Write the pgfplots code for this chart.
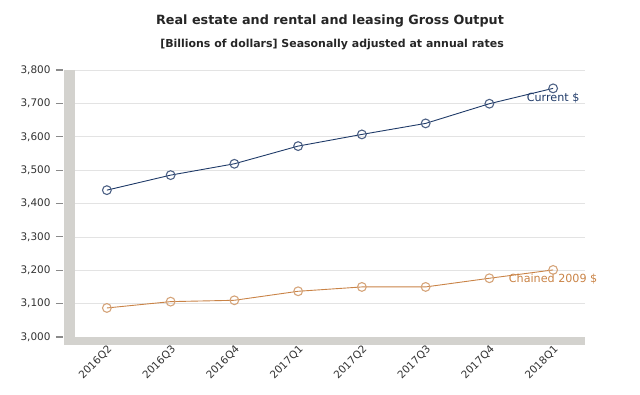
\documentclass[border=0pt]{standalone}
\usepackage{pgfplots}
\pgfplotsset{compat=1.18}
\usepackage{fontspec}
\setmainfont{DejaVu Sans}
\definecolor{curcol}{HTML}{1F3A68}
\definecolor{curmark}{HTML}{4D6185}
\definecolor{chcol}{HTML}{C98346}
\definecolor{chmark}{HTML}{D5A47A}
\definecolor{barcol}{HTML}{D3D2CE}
\definecolor{gridcol}{HTML}{E3E3E3}
\definecolor{txtcol}{HTML}{333333}
\definecolor{tickcol}{HTML}{8A8A8A}
\begin{document}
\begin{tikzpicture}
\useasboundingbox (0,0) rectangle (640bp,395bp);
\node[font=\fontsize{12.8}{14}\selectfont\bfseries, text=black!85] at (330bp,374bp) {Real estate and rental and leasing Gross Output};
\node[font=\fontsize{11}{12}\selectfont\bfseries, text=black!85] at (332bp,350bp) {[Billions of dollars] Seasonally adjusted at annual rates};
\begin{axis}[
  at={(75bp,58bp)}, anchor=south west,
  scale only axis, width=510bp, height=267bp,
  xmin=-0.5, xmax=7.5, ymin=3000, ymax=3800,
  axis line style={draw=none},
  xtick={0,...,7},
  xticklabels={2016Q2,2016Q3,2016Q4,2017Q1,2017Q2,2017Q3,2017Q4,2018Q1},
  xtick style={draw=none},
  xticklabel style={rotate=45, anchor=north east, font=\fontsize{10.5}{12}\selectfont, text=txtcol, xshift=3bp, yshift=3bp},
  ytick={3000,3100,...,3800},
  ytick pos=left,
  ymajorgrids, grid style={gridcol, line width=0.6pt},
  ytick style={draw=none},
  major tick length=7bp, tick align=outside,
  yticklabel style={font=\fontsize{10.5}{12}\selectfont, text=txtcol, xshift=-14bp},
  /pgf/number format/assume math mode=true,
  /pgf/number format/1000 sep={,},
  clip=false,
]
\fill[barcol] ([xshift=-11bp,yshift=-8bp]rel axis cs:0,0) rectangle (rel axis cs:0,1);
\fill[barcol] ([yshift=-8bp]rel axis cs:0,0) rectangle (rel axis cs:1,0);
\draw[tickcol, line width=1.1bp] ([xshift=-19bp]rel axis cs:0,0) -- ([xshift=-12bp]rel axis cs:0,0);
\draw[tickcol, line width=1.1bp] ([xshift=-19bp]rel axis cs:0,0.125) -- ([xshift=-12bp]rel axis cs:0,0.125);
\draw[tickcol, line width=1.1bp] ([xshift=-19bp]rel axis cs:0,0.25) -- ([xshift=-12bp]rel axis cs:0,0.25);
\draw[tickcol, line width=1.1bp] ([xshift=-19bp]rel axis cs:0,0.375) -- ([xshift=-12bp]rel axis cs:0,0.375);
\draw[tickcol, line width=1.1bp] ([xshift=-19bp]rel axis cs:0,0.5) -- ([xshift=-12bp]rel axis cs:0,0.5);
\draw[tickcol, line width=1.1bp] ([xshift=-19bp]rel axis cs:0,0.625) -- ([xshift=-12bp]rel axis cs:0,0.625);
\draw[tickcol, line width=1.1bp] ([xshift=-19bp]rel axis cs:0,0.75) -- ([xshift=-12bp]rel axis cs:0,0.75);
\draw[tickcol, line width=1.1bp] ([xshift=-19bp]rel axis cs:0,0.875) -- ([xshift=-12bp]rel axis cs:0,0.875);
\draw[tickcol, line width=1.1bp] ([xshift=-19bp]rel axis cs:0,1) -- ([xshift=-12bp]rel axis cs:0,1);
\addplot[curcol, line width=0.9pt, mark=o, mark size=4.4pt, mark options={draw=curmark, fill=white, line width=1.1pt}] coordinates {
 (0,3440) (1,3485) (2,3519) (3,3572) (4,3607) (5,3640) (6,3699) (7,3745)};
\addplot[chcol, line width=0.9pt, mark=o, mark size=4.4pt, mark options={draw=chmark, fill=white, line width=1.1pt}] coordinates {
 (0,3087) (1,3106) (2,3110) (3,3137) (4,3150) (5,3150) (6,3176) (7,3201)};
\node[anchor=north, font=\fontsize{11.2}{12}\selectfont, text=curcol, yshift=-1bp] at (axis cs:7,3745) {Current \$};
\node[anchor=north, font=\fontsize{11.2}{12}\selectfont, text=chcol, yshift=-1bp] at (axis cs:7,3201) {Chained 2009 \$};
\end{axis}
\end{tikzpicture}
\end{document}
